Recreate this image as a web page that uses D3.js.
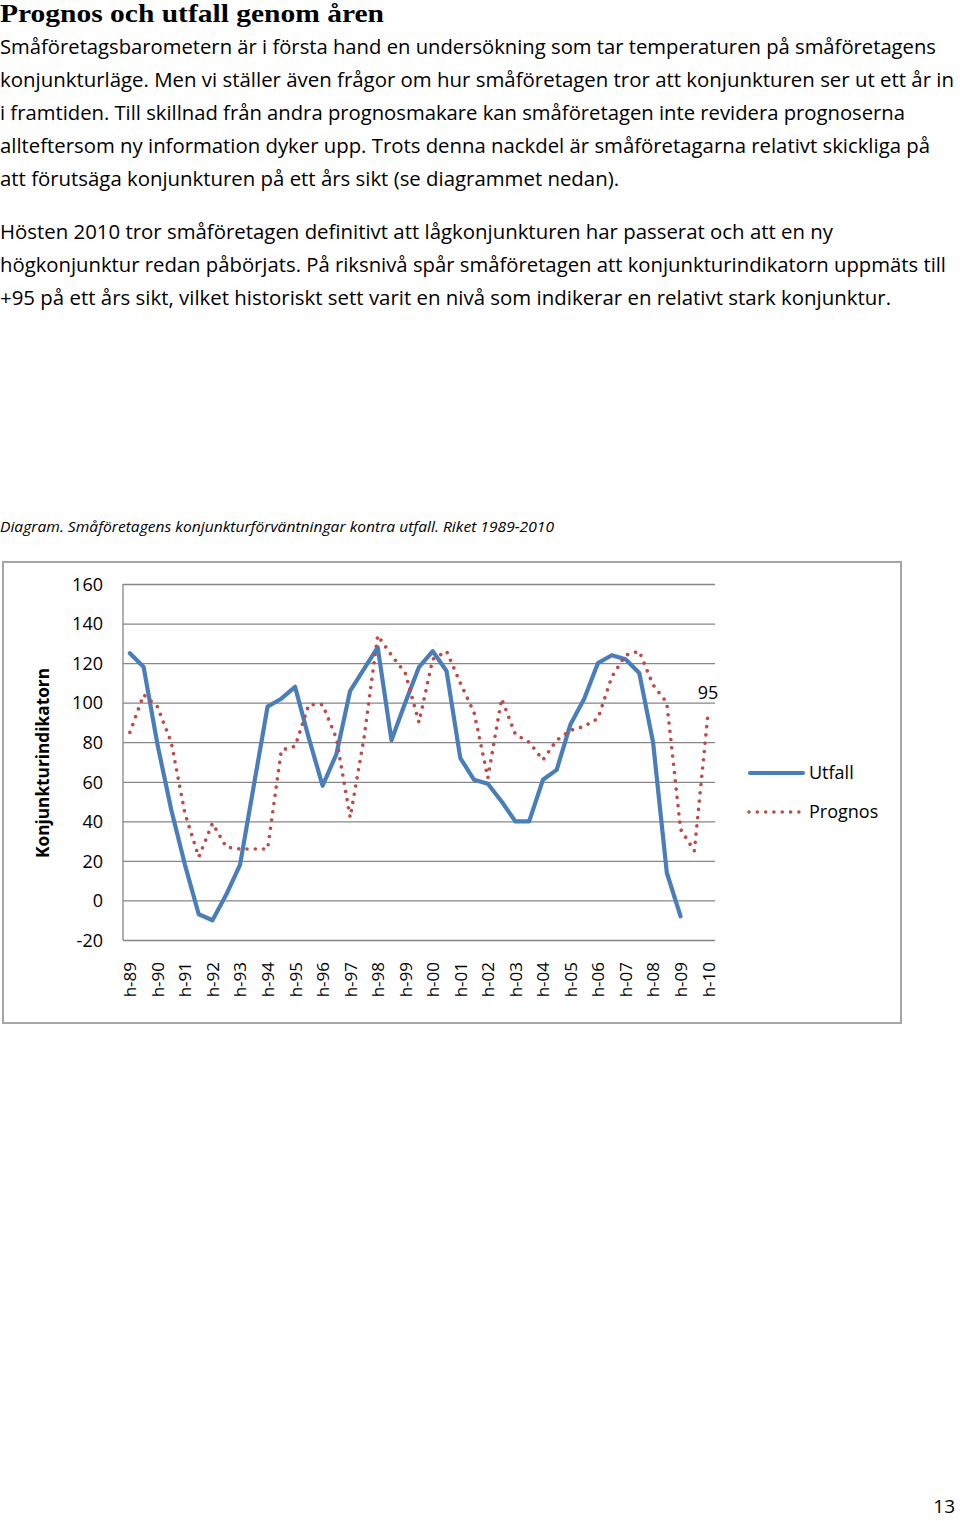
<!DOCTYPE html>
<html><head><meta charset="utf-8">
<script src="https://cdn.jsdelivr.net/npm/d3@7/dist/d3.min.js"></script>
<style>
body{margin:0;background:#fff;}
svg{display:block;}
</style></head>
<body>
<script>
// ---- data ----
const categories = ["h-89","v-90","h-90","v-91","h-91","v-92","h-92","v-93","h-93","v-94","h-94","v-95","h-95","v-96","h-96","v-97","h-97","v-98","h-98","v-99","h-99","v-00","h-00","v-01","h-01","v-02","h-02","v-03","h-03","v-04","h-04","v-05","h-05","v-06","h-06","v-07","h-07","v-08","h-08","v-09","h-09","v-10","h-10"];
const utfall = [125,118,79,46,18,-7,-10,3,18,58,98,102,108,82,58,74,106,117,128,81,100,118,126,116,72,61,59,50,40,40,61,66,89,102,120,124,122,115,80,14,-8];
const prognos = [85,104,98,80,44,22,39,27,26,26,26,76,78,99,99,82,42,82,134,124,115,90,122,126,110,95,62,102,84,80,71,81,86,88,92,113,124,126,109,100,36,25,95];
const yTicks = [-20,0,20,40,60,80,100,120,140,160];
const seriesNames = ["Utfall","Prognos"];
const endLabel = "95";

const title = "Prognos och utfall genom åren";
const para1 = [
 "Småföretagsbarometern är i första hand en undersökning som tar temperaturen på småföretagens",
 "konjunkturläge. Men vi ställer även frågor om hur småföretagen tror att konjunkturen ser ut ett år in",
 "i framtiden. Till skillnad från andra prognosmakare kan småföretagen inte revidera prognoserna",
 "allteftersom ny information dyker upp. Trots denna nackdel är småföretagarna relativt skickliga på",
 "att förutsäga konjunkturen på ett års sikt (se diagrammet nedan)."
];
const para2 = [
 "Hösten 2010 tror småföretagen definitivt att lågkonjunkturen har passerat och att en ny",
 "högkonjunktur redan påbörjats. På riksnivå spår småföretagen att konjunkturindikatorn uppmäts till",
 "+95 på ett års sikt, vilket historiskt sett varit en nivå som indikerar en relativt stark konjunktur."
];
const caption = "Diagram. Småföretagens konjunkturförväntningar kontra utfall. Riket 1989-2010";
const yTitle = "Konjunkturindikatorn";
const pageNo = "13";

// ---- layout ----
const W = 960, H = 1521;
const svg = d3.select("body").append("svg").attr("width", W).attr("height", H);
const sans = "'Open Sans', 'Noto Sans', sans-serif";

svg.append("text").attr("x", 0).attr("y", 22)
  .attr("font-family", "'Liberation Serif', serif").attr("font-weight", "bold")
  .attr("font-size", 26).attr("textLength", 384).attr("lengthAdjust", "spacingAndGlyphs")
  .attr("fill", "#000").text(title);

const p1W = [936, 954, 905, 930, 619];
const p2W = [833, 946, 891];
para1.forEach((t, i) => {
  svg.append("text").attr("x", 0).attr("y", 54 + i * 33)
    .attr("font-family", sans).attr("font-size", 19.5)
    .attr("textLength", p1W[i]).attr("lengthAdjust", "spacingAndGlyphs")
    .attr("fill", "#000").text(t);
});
para2.forEach((t, i) => {
  svg.append("text").attr("x", 0).attr("y", 239 + i * 33)
    .attr("font-family", sans).attr("font-size", 19.5)
    .attr("textLength", p2W[i]).attr("lengthAdjust", "spacingAndGlyphs")
    .attr("fill", "#000").text(t);
});

svg.append("text").attr("x", 0).attr("y", 532)
  .attr("font-family", sans).attr("font-style", "italic").attr("font-size", 15)
  .attr("textLength", 554).attr("lengthAdjust", "spacingAndGlyphs")
  .attr("fill", "#000").text(caption);

// chart frame
svg.append("rect").attr("x", 3).attr("y", 562).attr("width", 898).attr("height", 461)
  .attr("fill", "#fff").attr("stroke", "#a6a6a6").attr("stroke-width", 2);

const x = d3.scalePoint().domain(categories).range([123, 715]).padding(0.5);
const y = d3.scaleLinear().domain([-20, 160]).range([940, 584]);

// gridlines
const gy = svg.append("g").attr("transform", "translate(123,0)")
  .call(d3.axisLeft(y).tickValues(yTicks).tickSize(-592).tickFormat(""));
gy.select(".domain").remove();
gy.selectAll(".tick line").attr("stroke", "#868686").attr("stroke-width", 1.3);
// y axis line
svg.append("line").attr("x1", 123).attr("x2", 123).attr("y1", 584).attr("y2", 940)
  .attr("stroke", "#868686").attr("stroke-width", 1.3);

// y tick labels
const yl = svg.append("g").attr("transform", "translate(103,0)")
  .call(d3.axisLeft(y).tickValues(yTicks).tickSize(0).tickPadding(0).tickFormat(d => String(d)));
yl.select(".domain").remove();
yl.selectAll("text").attr("font-family", sans).attr("font-size", 18).attr("fill", "#000")
  .attr("text-anchor", "end").attr("dy", "0.35em");

// x labels (only autumn labels shown)
const xl = svg.append("g").attr("transform", "translate(0,958)")
  .call(d3.axisBottom(x).tickValues(categories.filter(c => c[0] === "h")).tickSize(0).tickPadding(0));
xl.select(".domain").remove();
xl.selectAll("text").attr("font-family", sans).attr("font-size", 17).attr("fill", "#000")
  .attr("transform", "rotate(-90)").attr("text-anchor", "end").attr("x", -4).attr("y", 0).attr("dy", "0.35em");

// y title
svg.append("text").attr("transform", "translate(49,763) rotate(-90)")
  .attr("text-anchor", "middle").attr("font-family", sans).attr("font-weight", "bold")
  .attr("font-size", 17.5).attr("textLength", 190).attr("lengthAdjust", "spacingAndGlyphs")
  .attr("fill", "#000").text(yTitle);

// lines
const lineU = d3.line().x((d, i) => x(categories[i])).y(d => y(d));
svg.append("path").datum(utfall).attr("d", lineU)
  .attr("fill", "none").attr("stroke", "#4a7ebb").attr("stroke-width", 4.2)
  .attr("stroke-linejoin", "round").attr("stroke-linecap", "round");
svg.append("path").datum(prognos).attr("d", lineU)
  .attr("fill", "none").attr("stroke", "#be4b48").attr("stroke-width", 3.6)
  .attr("stroke-dasharray", "0.01 8.3").attr("stroke-linecap", "round").attr("stroke-linejoin", "round");

// end data label
svg.append("text").attr("x", x(categories[categories.length - 1])).attr("y", y(prognos[prognos.length - 1]) - 14)
  .attr("text-anchor", "middle").attr("font-family", sans).attr("font-size", 18).attr("fill", "#000")
  .text(endLabel);

// legend
const lg = svg.append("g");
lg.append("line").attr("x1", 750).attr("x2", 803).attr("y1", 773).attr("y2", 773)
  .attr("stroke", "#4a7ebb").attr("stroke-width", 4.2).attr("stroke-linecap", "round");
lg.append("text").attr("x", 809).attr("y", 773).attr("dy", "0.35em")
  .attr("font-family", sans).attr("font-size", 18).attr("fill", "#000").text(seriesNames[0]);
lg.append("line").attr("x1", 749).attr("x2", 800).attr("y1", 812).attr("y2", 812)
  .attr("stroke", "#be4b48").attr("stroke-width", 3.6).attr("stroke-dasharray", "0.01 8.3")
  .attr("stroke-linecap", "round");
lg.append("text").attr("x", 809).attr("y", 812).attr("dy", "0.35em")
  .attr("font-family", sans).attr("font-size", 18).attr("fill", "#000").text(seriesNames[1]);

// page number
svg.append("text").attr("x", 955).attr("y", 1513).attr("text-anchor", "end")
  .attr("font-family", sans).attr("font-size", 19).attr("fill", "#000").text(pageNo);
</script>
</body></html>
